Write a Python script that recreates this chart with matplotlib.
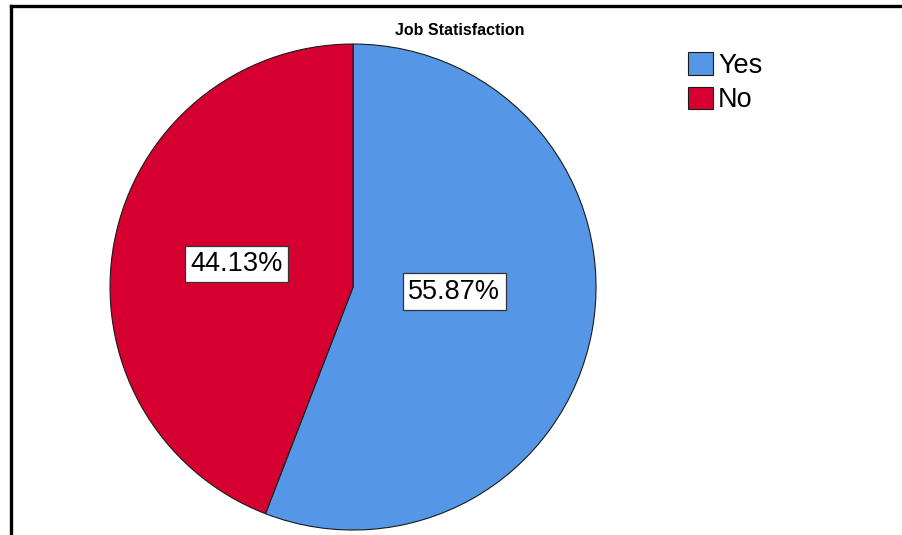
import matplotlib.pyplot as plt
from matplotlib.lines import Line2D

plt.rcParams['font.family'] = ['Liberation Sans', 'DejaVu Sans']

# Job satisfaction shares
categories = ['Yes', 'No']
shares = [55.87, 44.13]
colors = ['#5596E6', '#D5002F']

fig = plt.figure(figsize=(9.02, 5.35), dpi=100)
fig.patch.set_facecolor('white')

ax = fig.add_axes([0.1220, 0.0093, 0.5388, 0.9084])
wedges, _ = ax.pie(shares, colors=colors, startangle=90, counterclock=False,
                   wedgeprops=dict(edgecolor='#1a1a1a', linewidth=0.8))
ax.set_xlim(-1, 1)
ax.set_ylim(-1, 1)
ax.set_aspect('equal')
ax.axis('off')

# percentage boxes inside each slice
label_pos = [(0.416, -0.02), (-0.481, 0.095)]
for val, (lx, ly) in zip(shares, label_pos):
    ax.text(lx, ly, f'{val:.2f}%', ha='center', va='center', fontsize=19.5,
            bbox=dict(boxstyle='square,pad=0.2', facecolor='white',
                      edgecolor='#333333', linewidth=0.9))

fig.text(0.510, 0.943, 'Job Statisfaction', ha='center', va='center',
         fontsize=11.5, fontweight='bold')

fig.legend(wedges, categories, loc='upper left',
           bbox_to_anchor=(0.763, 0.902), frameon=False, fontsize=19.5,
           handlelength=0.9, handleheight=0.9, handletextpad=0.2,
           labelspacing=0.28, borderpad=0, borderaxespad=0)

# chart frame (top and left edges)
fig.add_artist(Line2D([0.0122, 1.0], [0.9888, 0.9888], color='black', linewidth=2.4))
fig.add_artist(Line2D([0.0122, 0.0122], [0.0, 0.9888], color='black', linewidth=2.4))

fig.savefig('out.png', dpi=100)
